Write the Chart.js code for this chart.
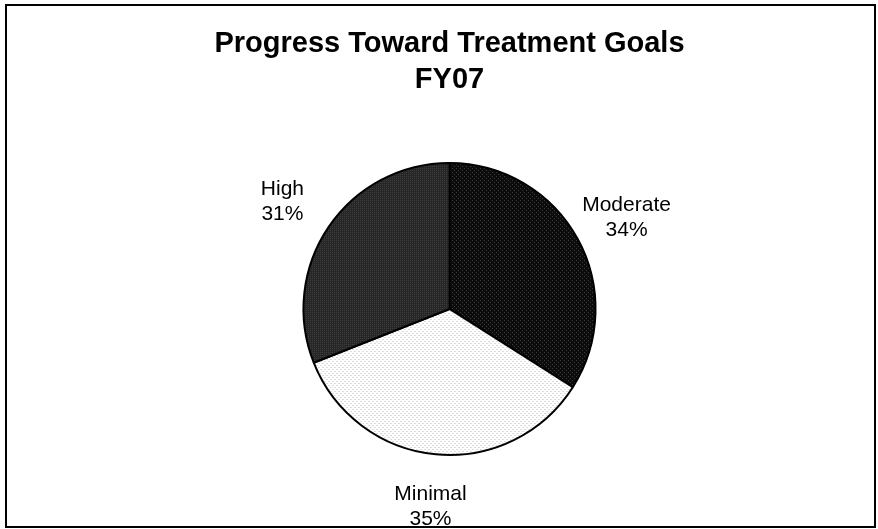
<!DOCTYPE html>
<html>
<head>
<meta charset="utf-8">
<script src="https://cdn.jsdelivr.net/npm/chart.js@4.4.0/dist/chart.umd.min.js"></script>
<style>
  html, body { margin: 0; padding: 0; background: #fff; }
  #wrap { width: 878px; height: 529px; position: relative; }
</style>
</head>
<body>
<div id="wrap"><canvas id="pieChart" width="878" height="529"></canvas></div>
<script>
// ===============================
// DATA
// ===============================

const titleLines = ["Progress Toward Treatment Goals", "FY07"];
const sliceLabels = ["Moderate", "Minimal", "High"];
const slicePercents = [34, 35, 31];

// ===============================
// FILL PATTERNS (dotted greys)
// ===============================

function makePattern(base, dot, cells) {
    const c = document.createElement("canvas");
    c.width = 4;
    c.height = 4;
    const g = c.getContext("2d");
    g.fillStyle = base;
    g.fillRect(0, 0, 4, 4);
    g.fillStyle = dot;
    cells.forEach(([x, y]) => g.fillRect(x, y, 1, 1));
    return g.createPattern(c, "repeat");
}

const ctx = document.getElementById("pieChart").getContext("2d");

const fills = [
    makePattern("#0c0c0c", "#3c3c3c", [[0, 0], [2, 2]]),
    makePattern("#ffffff", "#dcdcdc", [[0, 1], [1, 1], [2, 3], [3, 3]]),
    makePattern("#262626", "#3e3e3e", [[0, 0], [2, 0], [0, 2], [2, 2]])
];

// ===============================
// PLUGINS
// ===============================

// outer frame around the whole chart
const framePlugin = {
    id: "frame",
    afterDraw(chart) {
        const c = chart.ctx;
        c.save();
        c.strokeStyle = "#000";
        c.lineWidth = 2;
        c.strokeRect(6, 5, 869, 522);
        c.restore();
    }
};

// category name + percent outside each slice
const outsideLabels = {
    id: "outsideLabels",
    afterDatasetsDraw(chart) {
        const c = chart.ctx;
        const arcs = chart.getDatasetMeta(0).data;
        c.save();
        c.fillStyle = "#000";
        c.font = "21px 'Liberation Sans', Arial, sans-serif";
        c.textAlign = "center";
        c.textBaseline = "middle";
        arcs.forEach((arc, i) => {
            const p = arc.getProps(["x", "y", "startAngle", "endAngle", "outerRadius"], true);
            const mid = (p.startAngle + p.endAngle) / 2;
            const lx = p.x + Math.cos(mid) * (p.outerRadius + 56);
            const ly = p.y + Math.sin(mid) * (p.outerRadius + 50) + 3;
            c.fillText(sliceLabels[i], lx, ly - 12.5);
            c.fillText(slicePercents[i] + "%", lx, ly + 12.5);
        });
        c.restore();
    }
};

// ===============================
// PIE
// ===============================

new Chart(ctx, {
    type: "pie",
    data: {
        labels: sliceLabels,
        datasets: [{
            data: slicePercents,
            backgroundColor: fills,
            borderColor: "#000000",
            borderWidth: 2
        }]
    },
    options: {
        responsive: false,
        animation: false,
        layout: {
            padding: { left: 21, right: 0, top: 0, bottom: 73 }
        },
        plugins: {
            legend: { display: false },
            tooltip: { enabled: false },
            title: {
                display: true,
                text: titleLines,
                color: "#000",
                font: { family: "'Liberation Sans', Arial, sans-serif", size: 29, weight: "bold", lineHeight: 1.24 },
                padding: { top: 26, bottom: 64 }
            }
        }
    },
    plugins: [framePlugin, outsideLabels]
});
</script>
</body>
</html>
